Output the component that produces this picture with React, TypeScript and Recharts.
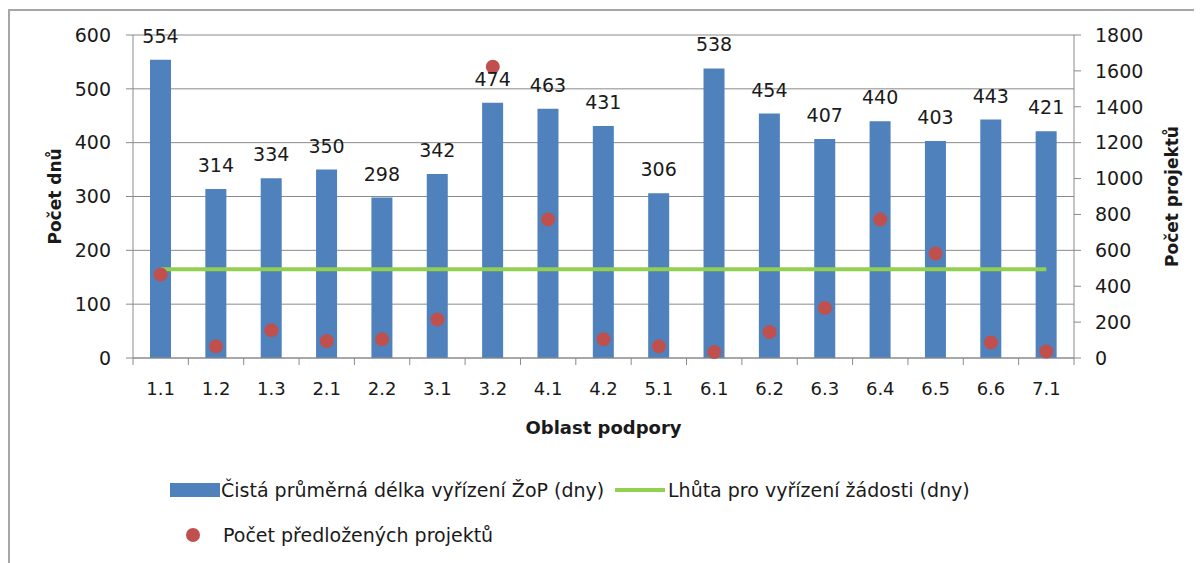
import React from 'react';
import { ComposedChart, Bar, Line, Scatter, XAxis, YAxis, CartesianGrid, LabelList, Label } from 'recharts';

const categories = ['1.1', '1.2', '1.3', '2.1', '2.2', '3.1', '3.2', '4.1', '4.2', '5.1', '6.1', '6.2', '6.3', '6.4', '6.5', '6.6', '7.1'];
const avgDays = [554, 314, 334, 350, 298, 342, 474, 463, 431, 306, 538, 454, 407, 440, 403, 443, 421];
const projects = [465, 65, 154, 95, 104, 214, 1623, 772, 104, 65, 33, 145, 279, 772, 582, 86, 36];
const limitDays = 165;

const leftTicks = [0, 100, 200, 300, 400, 500, 600];
const rightTicks = [0, 200, 400, 600, 800, 1000, 1200, 1400, 1600, 1800];

const BAR = '#4F81BD';
const LINE = '#92D050';
const DOT = '#C0504D';
const GRID = '#8a8a8a';
const TEXT = '#1a1a1a';
const FONT = '"DejaVu Sans", sans-serif';

const data = categories.map((c, i) => ({
  area: c,
  days: avgDays[i],
  limit: limitDays,
  projects: projects[i],
}));

// tick marks sit between categories, like the excel original
const CategoryTick = (props: any) => {
  const { x, y, payload, index, visibleTicksCount } = props;
  const half = payload && payload.offset > 0 ? payload.offset : 27.7;
  return (
    <g>
      <line x1={x - half} y1={y} x2={x - half} y2={y + 7} stroke={GRID} />
      {index === visibleTicksCount - 1 && <line x1={x + half} y1={y} x2={x + half} y2={y + 7} stroke={GRID} />}
      <text x={x} y={y + 37} textAnchor="middle" fontSize={18} fill={TEXT}>
        {payload.value}
      </text>
    </g>
  );
};

const RedDot = (props: any) => <circle cx={props.cx} cy={props.cy} r={7} fill={DOT} />;

export default function App() {
  return (
    <div style={{ position: 'relative', width: 1194, height: 555, fontFamily: FONT }}>
      <div style={{ position: 'absolute', left: 0, top: 1, width: 1194, height: 554, borderTop: '2px solid #a6a6a6', borderLeft: '2px solid #a6a6a6' }} />
      <ComposedChart width={1194} height={440} data={data} margin={{ top: 27, right: 18, bottom: 14, left: 25 }} style={{ position: 'absolute', left: 0, top: 0 }}>
        <CartesianGrid yAxisId="left" vertical={false} stroke={GRID} />
        <XAxis
          dataKey="area"
          height={76}
          tickSize={0}
          tickMargin={0}
          axisLine={{ stroke: GRID }}
          tick={<CategoryTick />}
          interval={0}
        >
          <Label value="Oblast podpory" position="insideBottom" offset={0} style={{ fontSize: 18, fontWeight: 'bold', fill: TEXT }} />
        </XAxis>
        <YAxis
          yAxisId="left"
          width={100}
          domain={[0, 600]}
          ticks={leftTicks}
          tickSize={7}
          tickMargin={15}
          axisLine={{ stroke: GRID }}
          tickLine={{ stroke: GRID }}
          tick={{ fontSize: 19, fill: TEXT }}
        >
          <Label value="Počet dnů" angle={-90} position="insideLeft" offset={22} style={{ fontSize: 17, fontWeight: 'bold', fill: TEXT, textAnchor: 'middle' }} />
        </YAxis>
        <YAxis
          yAxisId="right"
          orientation="right"
          width={110}
          domain={[0, 1800]}
          ticks={rightTicks}
          tickSize={7}
          tickMargin={14}
          axisLine={{ stroke: GRID }}
          tickLine={{ stroke: GRID }}
          tick={{ fontSize: 19, fill: TEXT }}
        >
          <Label value="Počet projektů" angle={-90} position="insideRight" offset={12} style={{ fontSize: 17, fontWeight: 'bold', fill: TEXT, textAnchor: 'middle' }} />
        </YAxis>
        <Bar yAxisId="left" dataKey="days" fill={BAR} barSize={21} isAnimationActive={false}>
          <LabelList dataKey="days" position="top" offset={17} fill={TEXT} fontSize={19} />
        </Bar>
        <Line yAxisId="left" dataKey="limit" type="linear" stroke={LINE} strokeWidth={4} dot={false} activeDot={false} isAnimationActive={false} />
        <Scatter yAxisId="right" dataKey="projects" fill={DOT} shape={<RedDot />} isAnimationActive={false} />
      </ComposedChart>
      <div style={{ position: 'absolute', left: 0, top: 0, width: 1194, height: 555, fontSize: 19, color: TEXT, pointerEvents: 'none' }}>
        <div style={{ position: 'absolute', left: 162, top: 475, width: 50, height: 14, background: BAR }} />
        <div style={{ position: 'absolute', left: 213, top: 470, lineHeight: '24px', whiteSpace: 'nowrap' }}>Čistá průměrná délka vyřízení ŽoP (dny)</div>
        <div style={{ position: 'absolute', left: 607, top: 480, width: 50, height: 4, background: LINE }} />
        <div style={{ position: 'absolute', left: 660, top: 470, lineHeight: '24px', whiteSpace: 'nowrap' }}>Lhůta pro vyřízení žádosti (dny)</div>
        <div style={{ position: 'absolute', left: 178, top: 520, width: 14, height: 14, borderRadius: 7, background: DOT }} />
        <div style={{ position: 'absolute', left: 215, top: 515, lineHeight: '24px', whiteSpace: 'nowrap' }}>Počet předložených projektů</div>
      </div>
    </div>
  );
}
